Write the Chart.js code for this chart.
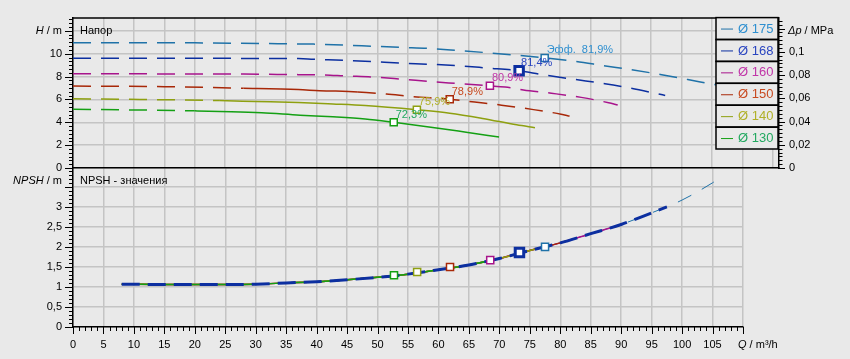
<!DOCTYPE html>
<html><head><meta charset="utf-8">
<script src="https://cdn.jsdelivr.net/npm/chart.js@4.4.0/dist/chart.umd.min.js"></script>
<style>
html,body{margin:0;padding:0;background:#e9e9e9;}
#wrap{position:relative;width:850px;height:359px;overflow:hidden;}
canvas{position:absolute;left:0;top:0;}
</style></head><body>
<div id="wrap"><canvas id="cN" width="850" height="359"></canvas><canvas id="cH" width="850" height="359"></canvas></div>
<script>
// ---------- data ----------
const diameters = ['Ø 175', 'Ø 168', 'Ø 160', 'Ø 150', 'Ø 140', 'Ø 130'];
const lineColors = ['#1f72a8', '#0c2fa0', '#a8148c', '#a82808', '#8ea010', '#14a014'];
const textColors = ['#2e8fd0', '#2a45c0', '#c035a8', '#c84a20', '#b0b028', '#22a860'];

const q175 = [0, 20, 35, 39.5, 44.5, 49, 54, 58.5, 63.3, 68.2, 73, 77.5, 82.4, 87.5, 91.7, 96.5, 101, 105, 108];
const h175 = [10.97, 10.95, 10.87, 10.84, 10.76, 10.66, 10.55, 10.46, 10.28, 10.08, 9.86, 9.63, 9.34, 8.93, 8.61, 8.18, 7.74, 7.34, 7.05];
const q168 = [0, 37, 39.5, 44.5, 49, 54, 58.5, 63.3, 68, 73.3, 77, 82.2, 87.4, 91.5, 96, 97.3];
const h168 = [9.6, 9.58, 9.52, 9.42, 9.31, 9.17, 9.08, 8.95, 8.75, 8.51, 8.18, 7.77, 7.38, 7.0, 6.5, 6.35];
const q160 = [0, 28, 37, 41, 45, 49, 54, 59, 63.6, 68.5, 71, 74, 78.6, 83.5, 88, 89.5];
const h160 = [8.24, 8.22, 8.17, 8.15, 8.05, 7.97, 7.77, 7.55, 7.38, 7.19, 7.08, 6.83, 6.54, 6.18, 5.71, 5.51];
const q150 = [0, 15, 28, 37, 40.5, 46.8, 51.5, 56, 61.9, 66, 70.4, 75.4, 80.2, 81.6];
const h150 = [7.17, 7.12, 6.98, 6.86, 6.77, 6.66, 6.47, 6.24, 6.02, 5.77, 5.5, 5.13, 4.71, 4.54];
const q140 = [0, 11, 24, 30, 37, 42.7, 48, 56.5, 61.9, 67.3, 72.9, 75.9];
const h140 = [6.05, 6.0, 5.9, 5.82, 5.73, 5.6, 5.46, 5.09, 4.8, 4.34, 3.78, 3.53];
const q130 = [0, 10, 20, 26, 31, 37.3, 42.7, 48, 52.7, 59.1, 64.6, 70];
const h130 = [5.13, 5.08, 5.0, 4.93, 4.83, 4.62, 4.48, 4.29, 4.0, 3.55, 3.13, 2.71];

// operating points (duty points) and efficiencies
const opQ = [77.5, 73.3, 68.5, 61.9, 56.5, 52.7];
const opH = [9.63, 8.51, 7.19, 6.02, 5.09, 4.0];
const opNpsh = [2.0, 1.86, 1.67, 1.5, 1.375, 1.29];
const effLabels = ['Эфф.  81,9%', '81,4%', '80,9%', '78,9%', '75,9%', '72,3%'];

// NPSH
const npshQ = [8, 15, 20, 25, 30, 35, 40, 45, 50, 55, 60, 65, 70, 75, 80, 85, 90, 95, 100, 105];
const npshVal = [1.07, 1.06, 1.06, 1.06, 1.07, 1.1, 1.13, 1.18, 1.24, 1.32, 1.43, 1.55, 1.71, 1.91, 2.1, 2.33, 2.56, 2.85, 3.17, 3.6];
const npshEndQ = [105.2, 97.5, 90.7, 81.6, 76, 70];
const npshEndVal = [3.62, 3.0, 2.6, 2.17, 1.95, 1.71];

// axes
const hMax = 13.16, dpMax = 0.1294, npshMax = 3.97, qMaxTop = 116, qMaxBottom = 110;

// ---------- helpers ----------
const FONT = '"Liberation Sans", Arial, sans-serif';
const GRID = '#c4c4c4';
const BG = '#e9e9e9';
const fmt = v => String(Math.round(v * 1000) / 1000).replace('.', ',');
const pts = (qs, hs) => qs.map((q, i) => ({x: q, y: hs[i]}));
const curves = [pts(q175, h175), pts(q168, h168), pts(q160, h160), pts(q150, h150), pts(q140, h140), pts(q130, h130)];
const solidRanges = [null, null, null, [18, 43], [14, 200], [14, 200]];

function npshSeries(i) {
  const p = npshQ.map((q, k) => ({x: q, y: npshVal[k]})).filter(o => o.x < npshEndQ[i]);
  p.push({x: npshEndQ[i], y: npshEndVal[i]});
  return p;
}

const tickMarks = {
  id: 'tickMarks',
  afterDraw(chart, args, opts) {
    const ctx = chart.ctx;
    ctx.save();
    ctx.strokeStyle = '#000';
    ctx.lineWidth = 1;
    (opts.axes || []).forEach(a => {
      const sc = chart.scales[a.id];
      const n = Math.floor((sc.max - sc.min) / a.step + 1e-6);
      for (let i = 0; i <= n; i++) {
        const v = sc.min + i * a.step;
        const len = (i % a.every === 0) ? a.major : a.minor;
        const p = Math.round(sc.getPixelForValue(v)) + 0.5;
        ctx.beginPath();
        if (a.side === 'left') { ctx.moveTo(sc.right, p); ctx.lineTo(sc.right - len, p); }
        else if (a.side === 'right') { ctx.moveTo(sc.left, p); ctx.lineTo(sc.left + len, p); }
        else { ctx.moveTo(p, sc.top); ctx.lineTo(p, sc.top + len); }
        ctx.stroke();
      }
    });
    ctx.restore();
  }
};

function drawMixed(ctx, parts, x, y, align) {
  ctx.textBaseline = 'middle';
  ctx.textAlign = 'left';
  const widths = parts.map(p => { ctx.font = (p[1] ? 'italic ' : '') + '11px ' + FONT; return ctx.measureText(p[0]).width; });
  const total = widths.reduce((a, b) => a + b, 0);
  let cx = align === 'right' ? x - total : x;
  parts.forEach((p, i) => { ctx.font = (p[1] ? 'italic ' : '') + '11px ' + FONT; ctx.fillText(p[0], cx, y); cx += widths[i]; });
}

const titles = {
  id: 'titles',
  afterDraw(chart, args, opts) {
    const ctx = chart.ctx, a = chart.chartArea;
    ctx.save();
    ctx.fillStyle = '#000';
    if (opts.kind === 'top') {
      ctx.strokeStyle = '#000'; ctx.lineWidth = 1.5;
      ctx.beginPath(); ctx.moveTo(a.left, a.top + 0.5); ctx.lineTo(a.right, a.top + 0.5); ctx.stroke();
      const y = chart.scales.y.getPixelForValue(12);
      drawMixed(ctx, [['H', true], [' / m', false]], 62, y, 'right');
      drawMixed(ctx, [['Δp', true], [' / MPa', false]], 788, y, 'left');
      ctx.font = '11px ' + FONT; ctx.fillStyle = '#000'; ctx.textAlign = 'left';
      ctx.fillText('Напор', a.left + 7, y);
      ctx.font = '11px ' + FONT;
      opQ.forEach((q, i) => {
        ctx.fillStyle = textColors[i];
        ctx.fillText(effLabels[i], chart.scales.x.getPixelForValue(q) + 2, chart.scales.y.getPixelForValue(opH[i]) - 7.5);
      });
      // legend
      const lx = a.right - 63, rh = 21.9;
      ctx.fillStyle = BG;
      ctx.fillRect(lx, a.top, 62, rh * diameters.length);
      ctx.strokeStyle = '#000'; ctx.lineWidth = 1.5;
      diameters.forEach((d, i) => {
        const ty = a.top + i * rh;
        ctx.strokeRect(lx, ty, 62, rh);
        ctx.strokeStyle = lineColors[i]; ctx.lineWidth = 1;
        ctx.beginPath(); ctx.moveTo(lx + 5, ty + rh / 2 + 0.5); ctx.lineTo(lx + 17, ty + rh / 2 + 0.5); ctx.stroke();
        ctx.fillStyle = textColors[i];
        ctx.font = '13px ' + FONT; ctx.textAlign = 'left'; ctx.textBaseline = 'middle';
        ctx.fillText(d, lx + 22, ty + rh / 2 + 0.5);
        ctx.strokeStyle = '#000'; ctx.lineWidth = 1.5;
      });
    } else {
      const y = chart.scales.y.getPixelForValue(3.65);
      drawMixed(ctx, [['NPSH', true], [' / m', false]], 62, y, 'right');
      ctx.font = '11px ' + FONT; ctx.fillStyle = '#000'; ctx.textAlign = 'left';
      ctx.fillText('NPSH - значения', a.left + 7, y);
      drawMixed(ctx, [['Q', true], [' / m³/h', false]], 738, chart.scales.x.top + 18, 'left');
    }
    ctx.restore();
  }
};

Chart.defaults.font.family = FONT;
Chart.defaults.font.size = 11;
Chart.defaults.color = '#000';

// ---------- top chart (head) ----------
const topDatasets = curves.map((c, i) => ({
  type: 'line', label: diameters[i], data: c, borderColor: lineColors[i], borderWidth: 1.5,
  pointRadius: 0, cubicInterpolationMode: 'monotone', fill: false, order: 2,
  borderDash: [18, 10],
  segment: solidRanges[i] ? {
    borderDash: ctx => (ctx.p0.parsed.x >= solidRanges[i][0] && ctx.p0.parsed.x < solidRanges[i][1]) ? [] : [18, 10]
  } : undefined
}));
topDatasets.push({
  type: 'scatter', label: 'op', data: opQ.map((q, i) => ({x: q, y: opH[i]})), order: 0,
  pointStyle: 'rect', pointRadius: opQ.map((q, i) => i === 1 ? 6 : 5),
  pointBorderWidth: opQ.map((q, i) => i === 1 ? 3 : 1.5),
  pointBackgroundColor: '#ffffff', pointBorderColor: lineColors, showLine: false
});

new Chart(document.getElementById('cH'), {
  data: {datasets: topDatasets},
  options: {
    responsive: false, animation: false, devicePixelRatio: 1,
    layout: {padding: {top: 11, bottom: 359 - 168, left: 0, right: 0}},
    plugins: {legend: {display: false}, tooltip: {enabled: false},
      tickMarks: {axes: [
        {id: 'y', step: 1 / 3, every: 6, major: 8, minor: 4, side: 'left'},
        {id: 'y1', step: 0.02 / 6, every: 6, major: 6, minor: 3.5, side: 'right'}
      ]},
      titles: {kind: 'top'}},
    scales: {
      x: {type: 'linear', min: 0, max: qMaxTop, position: 'bottom',
        ticks: {display: false, stepSize: 5, includeBounds: false},
        grid: {color: GRID, lineWidth: 1.5, drawTicks: false},
        border: {color: '#000', width: 1.5},
        afterFit: s => { s.height = 0; }},
      y: {type: 'linear', min: 0, max: hMax, position: 'left',
        ticks: {stepSize: 2, includeBounds: false, padding: 11, callback: v => v > 11 ? '' : fmt(v)},
        grid: {color: GRID, lineWidth: 1.5, drawTicks: false},
        border: {color: '#000', width: 1.5},
        afterFit: s => { s.width = 73; }},
      y1: {type: 'linear', min: 0, max: dpMax, position: 'right',
        ticks: {stepSize: 0.02, includeBounds: false, padding: 10, callback: v => v > 0.11 ? '' : fmt(v)},
        grid: {display: true, drawOnChartArea: false, drawTicks: false},
        border: {color: '#000', width: 1.5},
        afterFit: s => { s.width = 850 - 779; }}
    }
  },
  plugins: [tickMarks, titles]
});

// ---------- bottom chart (NPSH) ----------
const drawOrder = [0, 2, 3, 4, 5];
const botDatasets = drawOrder.map(i => ({
  type: 'line', label: diameters[i] + ' NPSH', data: npshSeries(i), borderColor: lineColors[i],
  borderWidth: i === 0 ? 1 : 1.5, borderDash: i === 0 ? [15, 12] : [], pointRadius: 0,
  cubicInterpolationMode: 'monotone', fill: false, order: 2 + (5 - i) * 0.1
}));
botDatasets.push({
  type: 'line', label: diameters[1] + ' NPSH', data: npshSeries(1), borderColor: lineColors[1],
  borderWidth: 3, borderDash: [18, 8], pointRadius: 0, cubicInterpolationMode: 'monotone', fill: false, order: 1
});
botDatasets.push({
  type: 'scatter', label: 'op npsh', data: opQ.map((q, i) => ({x: q, y: opNpsh[i]})), order: 0,
  pointStyle: 'rect', pointRadius: opQ.map((q, i) => i === 1 ? 6 : 5),
  pointBorderWidth: opQ.map((q, i) => i === 1 ? 3 : 1.5),
  pointBackgroundColor: '#ffffff', pointBorderColor: lineColors, showLine: false
});

new Chart(document.getElementById('cN'), {
  data: {datasets: botDatasets},
  options: {
    responsive: false, animation: false, devicePixelRatio: 1,
    layout: {padding: {top: 168, bottom: 0, left: 0, right: 850 - 743}},
    plugins: {legend: {display: false}, tooltip: {enabled: false},
      tickMarks: {axes: [
        {id: 'y', step: 0.1, every: 5, major: 8, minor: 4, side: 'left'},
        {id: 'x', step: 1, every: 5, major: 7, minor: 4, side: 'bottom'}
      ]},
      titles: {kind: 'bottom'}},
    scales: {
      x: {type: 'linear', min: 0, max: qMaxBottom, position: 'bottom',
        ticks: {stepSize: 5, autoSkip: false, maxRotation: 0, padding: 11, callback: v => v > 107 ? '' : fmt(v)},
        grid: {color: GRID, lineWidth: 1.5, drawTicks: false},
        border: {color: '#000', width: 1.5},
        afterFit: s => { s.height = 32; }},
      y: {type: 'linear', min: 0, max: npshMax, position: 'left',
        ticks: {stepSize: 0.5, includeBounds: false, padding: 11, callback: v => v > 3.2 ? '' : fmt(v)},
        grid: {color: GRID, lineWidth: 1.5, drawTicks: false},
        border: {color: '#000', width: 1.5},
        afterFit: s => { s.width = 73; }}
    }
  },
  plugins: [tickMarks, titles]
});
</script>
</body></html>
